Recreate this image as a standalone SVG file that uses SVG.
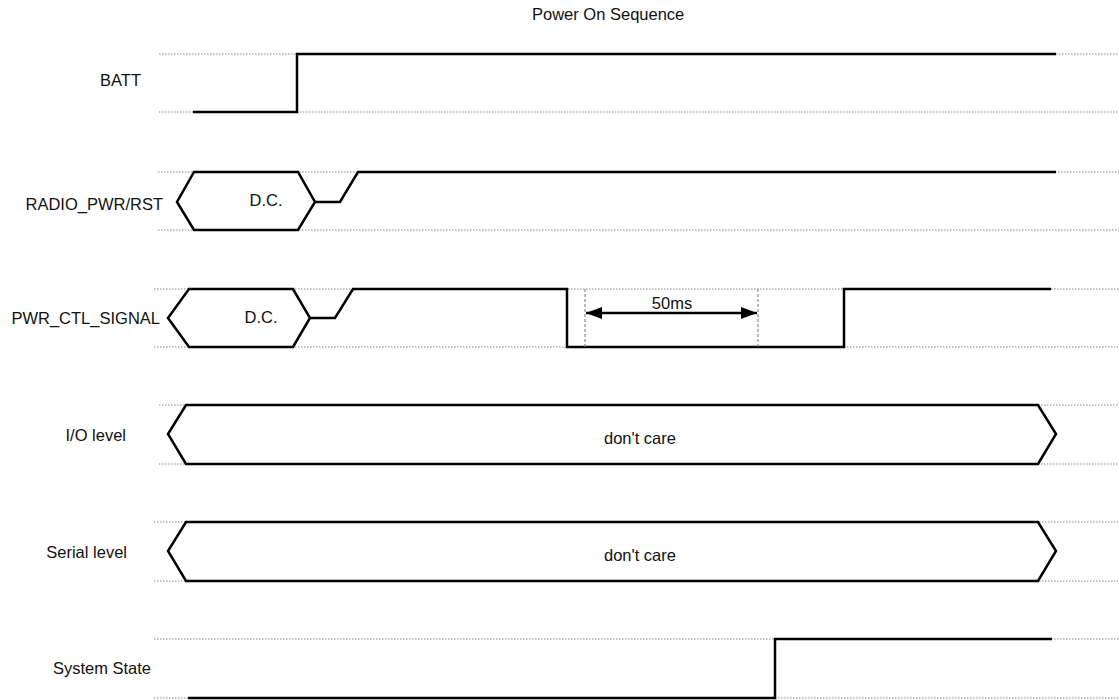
<svg xmlns="http://www.w3.org/2000/svg" width="1119" height="700" viewBox="0 0 1119 700">
<style>
.bg{fill:#fff}
.dot{stroke:#888;stroke-width:1;stroke-dasharray:1.5,1.5;fill:none}
.sig{stroke:#000;stroke-width:2.5;fill:none;stroke-linejoin:miter}
.dash{stroke:#777;stroke-width:1;stroke-dasharray:3,2;fill:none}
.lbl{font-family:"Liberation Sans",Arial,sans-serif;font-size:16.5px;fill:#111}
.c{text-anchor:middle}
.e{text-anchor:end}
</style>
<defs>
<marker id="ah" viewBox="0 0 16 12" refX="16" refY="6" markerWidth="16" markerHeight="12" markerUnits="userSpaceOnUse" orient="auto-start-reverse">
<path d="M0,0 L16,6 L0,12 Z" fill="#000"/>
</marker>
</defs>
<rect class="bg" width="1119" height="700"/>
<text class="lbl" x="532" y="20">Power On Sequence</text>
<g id="grid">
<line class="dot" x1="159" y1="54" x2="1119" y2="54"/>
<line class="dot" x1="159" y1="112" x2="1119" y2="112"/>
<line class="dot" x1="158" y1="172" x2="1119" y2="172"/>
<line class="dot" x1="158" y1="230" x2="1119" y2="230"/>
<line class="dot" x1="154" y1="289" x2="1119" y2="289"/>
<line class="dot" x1="154" y1="347" x2="1119" y2="347"/>
<line class="dot" x1="159" y1="405" x2="1119" y2="405"/>
<line class="dot" x1="159" y1="464" x2="1119" y2="464"/>
<line class="dot" x1="154" y1="522" x2="1119" y2="522"/>
<line class="dot" x1="154" y1="581" x2="1119" y2="581"/>
<line class="dot" x1="154" y1="639" x2="1119" y2="639"/>
<line class="dot" x1="154" y1="698" x2="1119" y2="698"/>
</g>
<g id="batt">
<text class="lbl e" x="141" y="86">BATT</text>
<path class="sig" d="M193,112 H297 V54 H1056"/>
</g>
<g id="radio">
<text class="lbl e" x="163" y="210">RADIO_PWR/RST</text>
<path class="sig" d="M194,172 H298 L315,202 L298,230 H194 L177,202 Z"/>
<text class="lbl c" x="266" y="206">D.C.</text>
<path class="sig" d="M315,202 H340 L358,172 H1056"/>
</g>
<g id="pwrctl">
<text class="lbl e" x="160" y="324">PWR_CTL_SIGNAL</text>
<path class="sig" d="M189,289 H293 L310,318 L293,347 H189 L168,318 Z"/>
<text class="lbl c" x="261" y="323">D.C.</text>
<path class="sig" d="M310,318 H335 L353,289 H567 V347 H844 V289 H1051"/>
</g>
<g id="connectors">
<line class="dash" x1="585" y1="289" x2="585" y2="347"/>
<line class="dash" x1="758" y1="289" x2="758" y2="347"/>
<line x1="586" y1="313" x2="757" y2="313" stroke="#000" stroke-width="2.5" marker-start="url(#ah)" marker-end="url(#ah)"/>
<text class="lbl c" x="672" y="309">50ms</text>
</g>
<g id="io">
<text class="lbl e" x="126" y="441">I/O level</text>
<path class="sig" d="M186,405 H1038 L1056,434 L1038,464 H186 L168,434 Z"/>
<text class="lbl c" x="640" y="444">don't care</text>
</g>
<g id="serial">
<text class="lbl e" x="127" y="558">Serial level</text>
<path class="sig" d="M186,522 H1038 L1056,551 L1038,581 H186 L168,551 Z"/>
<text class="lbl c" x="640" y="561">don't care</text>
</g>
<g id="system">
<text class="lbl e" x="151" y="674">System State</text>
<path class="sig" d="M188,698 H775 V639 H1052"/>
</g>
</svg>
